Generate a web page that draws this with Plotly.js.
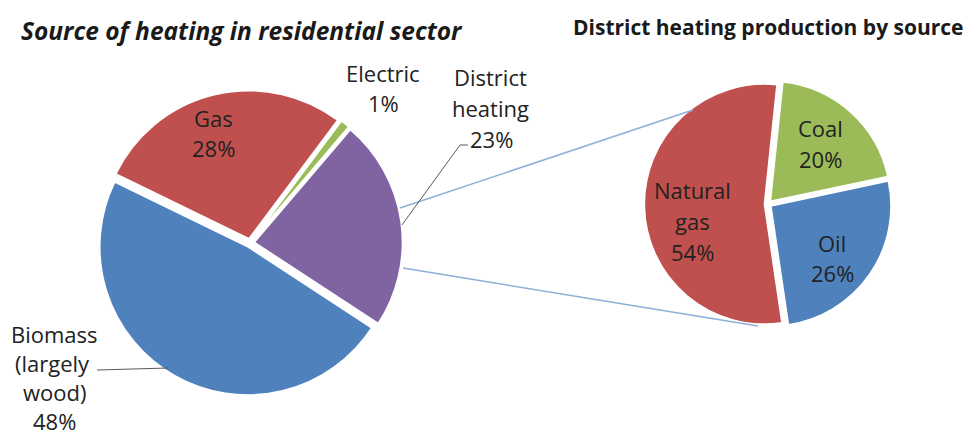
<!DOCTYPE html>
<html>
<head>
<meta charset="utf-8">
<script src="https://cdn.plot.ly/plotly-3.0.1.min.js"></script>
<style>html,body{margin:0;padding:0;background:#fff;}#chart{width:967px;height:435px;}</style>
</head>
<body>
<div id="chart"></div>
<script>
// ---- data ----
const residentialLabels = ["Gas", "Electric", "District<br>heating", "Biomass<br>(largely<br>wood)"];
const residentialValues = [28, 1, 23, 48];
const districtLabels = ["Coal", "Oil", "Natural<br>gas"];
const districtValues = [20, 26, 54];
const leftTitle = "Source of heating in residential sector";
const rightTitle = "District heating production by source";

// ---- styling / geometry ----
const W = 967, H = 435;
const px = x => x / W;
const py = y => 1 - y / H;
const FONT = "'Open Sans', Lato, sans-serif";
const TXT = "#222222";
const leftColors = ["#C0504D", "#9BBB59", "#8064A2", "#4F81BD"];
const rightColors = ["#9BBB59", "#4F81BD", "#C0504D"];

function dom(cx, cy, half) {
  return {x: [px(cx - half), px(cx + half)], y: [py(cy + half), py(cy - half)]};
}

const pull = 0.03;
const traces = [
  {
    type: "pie", labels: residentialLabels, values: residentialValues,
    sort: false, direction: "clockwise", rotation: 296,
    marker: {colors: leftColors, line: {color: "#ffffff", width: 1.5}},
    pull: residentialValues.map(() => pull),
    textinfo: "none", hoverinfo: "none",
    domain: dom(250, 243, 148 * (1 + pull))
  },
  {
    type: "pie", labels: districtLabels, values: districtValues,
    sort: false, direction: "clockwise", rotation: 6,
    marker: {colors: rightColors, line: {color: "#ffffff", width: 1.5}},
    pull: districtValues.map(() => pull),
    textinfo: "none", hoverinfo: "none",
    domain: dom(768, 204, 120 * (1 + pull))
  }
];

// label placements (pixel centres of first line) and line spacing
const leftLabelPos = [[213, 118, 30], [383, 73, 30], [490, 77, 31], [54, 334, 29]];
const rightLabelPos = [[820, 128, 31], [832, 243, 30], [692, 190, 31]];
const leftLabelX = [null, null, [490, 490, 491], [54, 52, 54, 54]];

const annotations = [];
function addLabel(label, value, pos, xs) {
  const lines = label.split("<br>").concat([value + "%"]);
  lines.forEach((t, i) => {
    annotations.push({
      text: t, xref: "paper", yref: "paper",
      x: px(xs ? xs[i] : pos[0]), y: py(pos[1] + i * pos[2]),
      xanchor: "center", yanchor: "middle", showarrow: false,
      font: {family: FONT, size: 22, color: TXT}
    });
  });
}
residentialLabels.forEach((l, i) => addLabel(l, residentialValues[i], leftLabelPos[i], leftLabelX[i]));
districtLabels.forEach((l, i) => addLabel(l, districtValues[i], rightLabelPos[i], null));

annotations.push({
  text: "<b><i>" + leftTitle + "</i></b>", xref: "paper", yref: "paper",
  x: px(242), y: py(30), xanchor: "center", yanchor: "middle", showarrow: false,
  font: {family: FONT, size: 24.5, color: "#1a1a1a"}
});
annotations.push({
  text: "<b>" + rightTitle + "</b>", xref: "paper", yref: "paper",
  x: px(768), y: py(27), xanchor: "center", yanchor: "middle", showarrow: false,
  font: {family: FONT, size: 21, color: "#1a1a1a"}
});

const P = (x, y) => px(x).toFixed(4) + "," + py(y).toFixed(4);
const shapes = [
  {type: "path", xref: "paper", yref: "paper", path: "M" + P(400, 208) + " L" + P(693, 110),
   line: {color: "#8DB0DB", width: 1.5}},
  {type: "path", xref: "paper", yref: "paper", path: "M" + P(403, 268) + " L" + P(758, 326),
   line: {color: "#8DB0DB", width: 1.5}},
  {type: "path", xref: "paper", yref: "paper", path: "M" + P(402, 225) + " L" + P(460, 145) + " L" + P(468, 145),
   line: {color: "#595959", width: 1}},
  {type: "path", xref: "paper", yref: "paper", path: "M" + P(97, 370) + " L" + P(168, 368),
   line: {color: "#595959", width: 1}}
];

const layout = {
  width: W, height: H, margin: {l: 0, r: 0, t: 0, b: 0},
  paper_bgcolor: "#ffffff", plot_bgcolor: "#ffffff",
  showlegend: false, annotations: annotations, shapes: shapes
};
Plotly.newPlot("chart", traces, layout, {displayModeBar: false, staticPlot: true});
</script>
</body>
</html>
